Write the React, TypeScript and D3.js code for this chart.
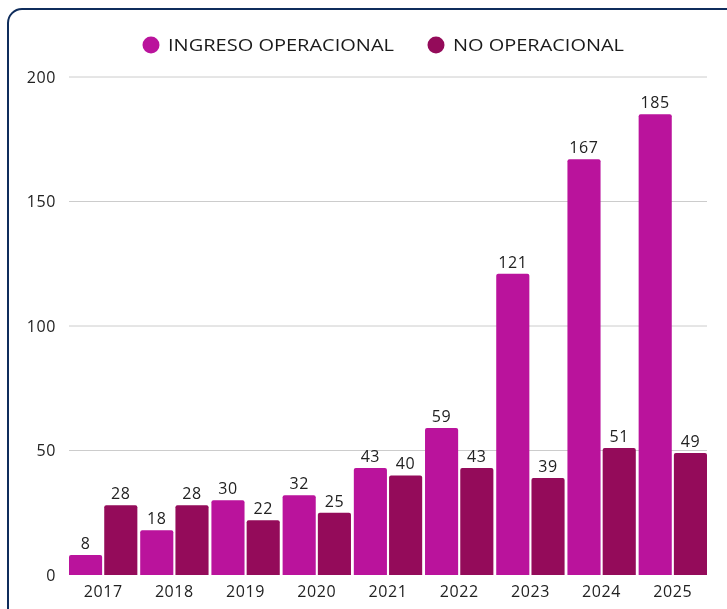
import React, { useEffect, useRef } from 'react';
import * as d3 from 'd3';

const years = ['2017', '2018', '2019', '2020', '2021', '2022', '2023', '2024', '2025'];
const ingresoOperacional = [8, 18, 30, 32, 43, 59, 121, 167, 185];
const noOperacional = [28, 28, 22, 25, 40, 43, 39, 51, 49];
const yTicks = [0, 50, 100, 150, 200];
const seriesNames = ['INGRESO OPERACIONAL', 'NO OPERACIONAL'];
const seriesColors = ['#BA139C', '#940B5A'];

const FONT = '"Open Sans", Lato, sans-serif';

export default function App() {
  const svgRef = useRef<SVGSVGElement>(null);

  useEffect(() => {
    const svg = d3.select(svgRef.current);
    svg.selectAll('*').remove();

    const width = 727;
    const height = 609;
    const margin = { top: 77, right: 20, bottom: 34, left: 69 };
    const plotW = 707 - margin.left;
    const plotH = 575 - margin.top;

    // outer card border
    svg.append('rect')
      .attr('x', 8)
      .attr('y', 9)
      .attr('width', 740)
      .attr('height', 640)
      .attr('rx', 14)
      .attr('fill', '#fff')
      .attr('stroke', '#0f2d5c')
      .attr('stroke-width', 2);

    const x0 = d3.scaleBand().domain(years).range([0, plotW]).paddingInner(0.04).paddingOuter(0);
    const x1 = d3.scaleBand().domain(['a', 'b']).range([0, x0.bandwidth()]).paddingInner(0.06);
    const y = d3.scaleLinear().domain([0, 200]).range([plotH, 0]);

    const g = svg.append('g').attr('transform', `translate(${margin.left},${margin.top})`);

    // grid
    g.selectAll('.grid')
      .data(yTicks.filter(t => t > 0))
      .enter()
      .append('line')
      .attr('x1', 0)
      .attr('x2', plotW)
      .attr('y1', d => y(d))
      .attr('y2', d => y(d))
      .attr('stroke', '#cccccc')
      .attr('stroke-width', 1);

    // y labels
    g.selectAll('.ylab')
      .data(yTicks)
      .enter()
      .append('text')
      .attr('x', -13)
      .attr('y', d => y(d))
      .attr('dy', '0.35em')
      .attr('text-anchor', 'end')
      .attr('font-family', FONT)
      .attr('font-size', 16)
      .attr('letter-spacing', 0.6)
      .attr('fill', '#222')
      .text(d => d);

    const series = [ingresoOperacional, noOperacional];
    const keys = ['a', 'b'];

    series.forEach((vals, si) => {
      const bars = g.append('g');
      bars.selectAll('path')
        .data(vals)
        .enter()
        .append('path')
        .attr('d', (d, i) => {
          const bx = (x0(years[i]) || 0) + (x1(keys[si]) || 0);
          const bw = x1.bandwidth();
          const top = y(d);
          const r = 2;
          return `M${bx},${plotH}V${top + r}Q${bx},${top} ${bx + r},${top}H${bx + bw - r}Q${bx + bw},${top} ${bx + bw},${top + r}V${plotH}Z`;
        })
        .attr('fill', seriesColors[si]);

      bars.selectAll('text')
        .data(vals)
        .enter()
        .append('text')
        .attr('x', (d, i) => (x0(years[i]) || 0) + (x1(keys[si]) || 0) + x1.bandwidth() / 2)
        .attr('y', d => y(d) - 6)
        .attr('text-anchor', 'middle')
        .attr('font-family', FONT)
        .attr('font-size', 16)
        .attr('letter-spacing', 0.6)
        .attr('fill', '#222')
        .text(d => d);
    });

    // x labels
    g.selectAll('.xlab')
      .data(years)
      .enter()
      .append('text')
      .attr('x', d => (x0(d) || 0) + x0.bandwidth() / 2)
      .attr('y', plotH + 16)
      .attr('dy', '0.35em')
      .attr('text-anchor', 'middle')
      .attr('font-family', FONT)
      .attr('font-size', 16)
      .attr('letter-spacing', 0.6)
      .attr('fill', '#222')
      .text(d => d);

    // legend
    const legendItems = [
      { x: 151, name: seriesNames[0], color: seriesColors[0], len: 226 },
      { x: 436, name: seriesNames[1], color: seriesColors[1], len: 171 }
    ];
    const leg = svg.append('g');
    legendItems.forEach(it => {
      leg.append('circle')
        .attr('cx', it.x)
        .attr('cy', 45)
        .attr('r', 8.5)
        .attr('fill', it.color);
      leg.append('text')
        .attr('x', it.x + 17)
        .attr('y', 45)
        .attr('dy', '0.35em')
        .attr('font-family', FONT)
        .attr('font-size', 16.5)
        .attr('textLength', it.len)
        .attr('lengthAdjust', 'spacingAndGlyphs')
        .attr('fill', '#1a1a1a')
        .text(it.name);
    });

    svg.attr('width', width).attr('height', height);
  }, []);

  return (
    <svg
      ref={svgRef}
      width={727}
      height={609}
      style={{ position: 'fixed', left: 0, top: 0, display: 'block' }}
    />
  );
}
